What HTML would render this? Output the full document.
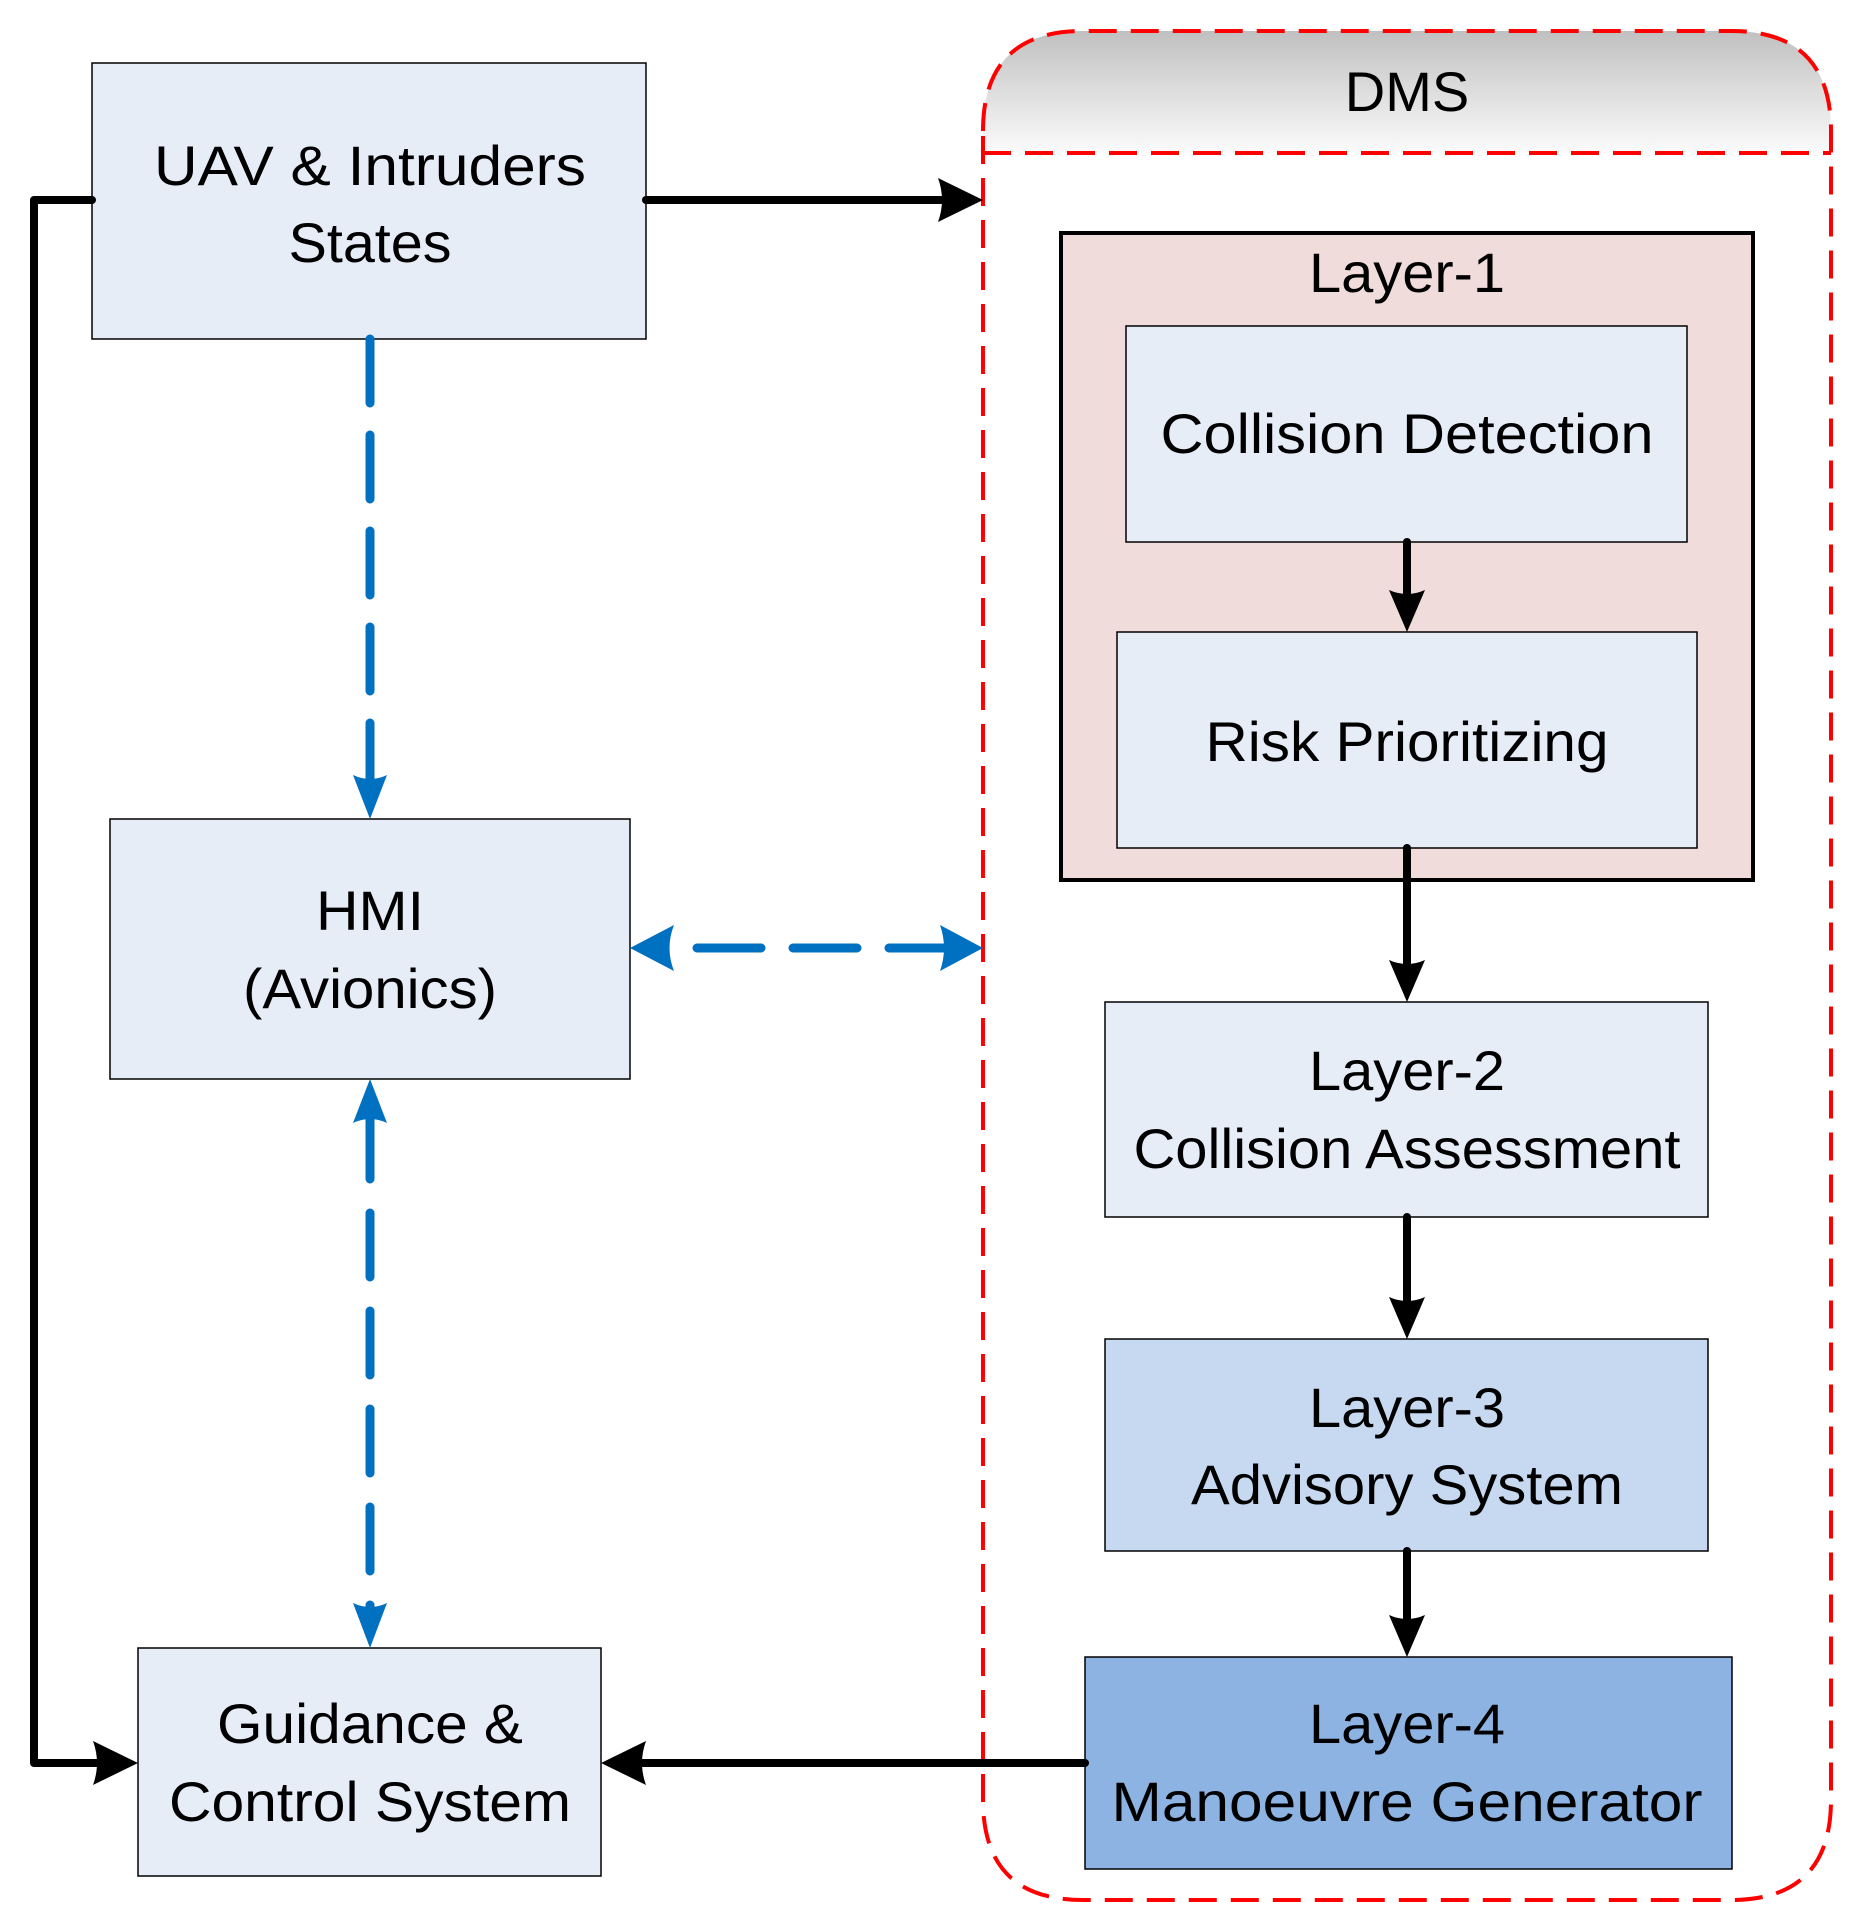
<!DOCTYPE html>
<html><head><meta charset="utf-8"><style>html,body{margin:0;padding:0;background:#fff}svg{display:block}</style></head>
<body>
<svg width="1868" height="1930" viewBox="0 0 1868 1930" xmlns="http://www.w3.org/2000/svg" font-family="'Liberation Sans', sans-serif" font-size="56" text-anchor="middle">
<defs>
<linearGradient id="g" x1="0" y1="0" x2="0" y2="1"><stop offset="0" stop-color="#c0c0c0"/><stop offset="1" stop-color="#fbfbfb"/></linearGradient>
</defs>
<!-- DMS header -->
<path d="M983,153 L983,131 Q983,31 1083,31 L1731,31 Q1831,31 1831,131 L1831,153 Z" fill="url(#g)"/>
<path d="M983,131 Q983,31 1083,31 L1731,31 Q1831,31 1831,131 L1831,1800 Q1831,1900 1731,1900 L1083,1900 Q983,1900 983,1800 Z" fill="none" stroke="#ff0000" stroke-width="4" stroke-dasharray="28,14"/>
<line x1="983" y1="153" x2="1831" y2="153" stroke="#ff0000" stroke-width="4" stroke-dasharray="28,14"/>
<text x="1407" y="111">DMS</text>

<!-- boxes -->
<rect x="92" y="63" width="554" height="276" fill="#e6edf7" stroke="#000" stroke-width="1.5"/>
<text x="370" y="185" textLength="432" lengthAdjust="spacingAndGlyphs">UAV &amp; Intruders</text>
<text x="370" y="262" textLength="163" lengthAdjust="spacingAndGlyphs">States</text>

<rect x="110" y="819" width="520" height="260" fill="#e6edf7" stroke="#000" stroke-width="1.5"/>
<text x="370" y="930" textLength="108" lengthAdjust="spacingAndGlyphs">HMI</text>
<text x="370" y="1008" textLength="254" lengthAdjust="spacingAndGlyphs">(Avionics)</text>

<rect x="138" y="1648" width="463" height="228" fill="#e6edf7" stroke="#000" stroke-width="1.5"/>
<text x="370" y="1743" textLength="306" lengthAdjust="spacingAndGlyphs">Guidance &amp;</text>
<text x="370" y="1821" textLength="402" lengthAdjust="spacingAndGlyphs">Control System</text>

<rect x="1061" y="233" width="692" height="647" fill="#f0dcdb" stroke="#000" stroke-width="4"/>
<text x="1407" y="292" textLength="196" lengthAdjust="spacingAndGlyphs">Layer-1</text>
<rect x="1126" y="326" width="561" height="216" fill="#e6edf7" stroke="#000" stroke-width="1.5"/>
<text x="1407" y="453" textLength="493" lengthAdjust="spacingAndGlyphs">Collision Detection</text>
<rect x="1117" y="632" width="580" height="216" fill="#e6edf7" stroke="#000" stroke-width="1.5"/>
<text x="1407" y="761" textLength="403" lengthAdjust="spacingAndGlyphs">Risk Prioritizing</text>

<rect x="1105" y="1002" width="603" height="215" fill="#e6edf7" stroke="#000" stroke-width="1.5"/>
<text x="1407" y="1090" textLength="196" lengthAdjust="spacingAndGlyphs">Layer-2</text>
<text x="1407" y="1168" textLength="547" lengthAdjust="spacingAndGlyphs">Collision Assessment</text>

<rect x="1105" y="1339" width="603" height="212" fill="#c6d9f0" stroke="#000" stroke-width="1.5"/>
<text x="1407" y="1427" textLength="196" lengthAdjust="spacingAndGlyphs">Layer-3</text>
<text x="1407" y="1504" textLength="432" lengthAdjust="spacingAndGlyphs">Advisory System</text>

<rect x="1085" y="1657" width="647" height="212" fill="#8db3e2" stroke="#000" stroke-width="1.5"/>
<text x="1407" y="1743" textLength="196" lengthAdjust="spacingAndGlyphs">Layer-4</text>
<text x="1407" y="1821" textLength="591" lengthAdjust="spacingAndGlyphs">Manoeuvre Generator</text>

<!-- black connectors -->
<g stroke="#000" stroke-width="8" fill="none" stroke-linecap="round" stroke-linejoin="round">
<polyline points="92,200 34,200 34,1763 100,1763"/>
<line x1="646" y1="200" x2="950" y2="200"/>
<line x1="1407" y1="542" x2="1407" y2="600"/>
<line x1="1407" y1="848" x2="1407" y2="970"/>
<line x1="1407" y1="1217" x2="1407" y2="1307"/>
<line x1="1407" y1="1551" x2="1407" y2="1625"/>
<line x1="1085" y1="1763" x2="635" y2="1763"/>
</g>
<g fill="#000">
<path d="M983,200 L938,178 Q946,200 938,222 Z"/>
<path d="M138,1763 L93,1741 Q101,1763 93,1785 Z"/>
<path d="M601,1763 L646,1741 Q638,1763 646,1785 Z"/>
<path d="M1407,632 L1389,590 Q1407,598 1425,590 Z"/>
<path d="M1407,1002 L1389,960 Q1407,968 1425,960 Z"/>
<path d="M1407,1339 L1389,1297 Q1407,1305 1425,1297 Z"/>
<path d="M1407,1657 L1389,1615 Q1407,1623 1425,1615 Z"/>
</g>

<!-- blue dashed -->
<g stroke="#0070c0" stroke-width="9" fill="none" stroke-linecap="round">
<line x1="370" y1="339" x2="370" y2="785" stroke-dasharray="64,32"/>
<line x1="697" y1="948" x2="950" y2="948" stroke-dasharray="64,32"/>
<line x1="370" y1="1115" x2="370" y2="1615" stroke-dasharray="64,34"/>
</g>
<g fill="#0070c0">
<path d="M370,819 L353,775 Q370,783 387,775 Z"/>
<path d="M630,948 L674,925 Q665,948 674,971 Z"/>
<path d="M983,948 L940,925 Q948,948 940,971 Z"/>
<path d="M370,1079 L353,1123 Q370,1115 387,1123 Z"/>
<path d="M370,1648 L353,1603 Q370,1611 387,1603 Z"/>
</g>
</svg>
</body></html>
